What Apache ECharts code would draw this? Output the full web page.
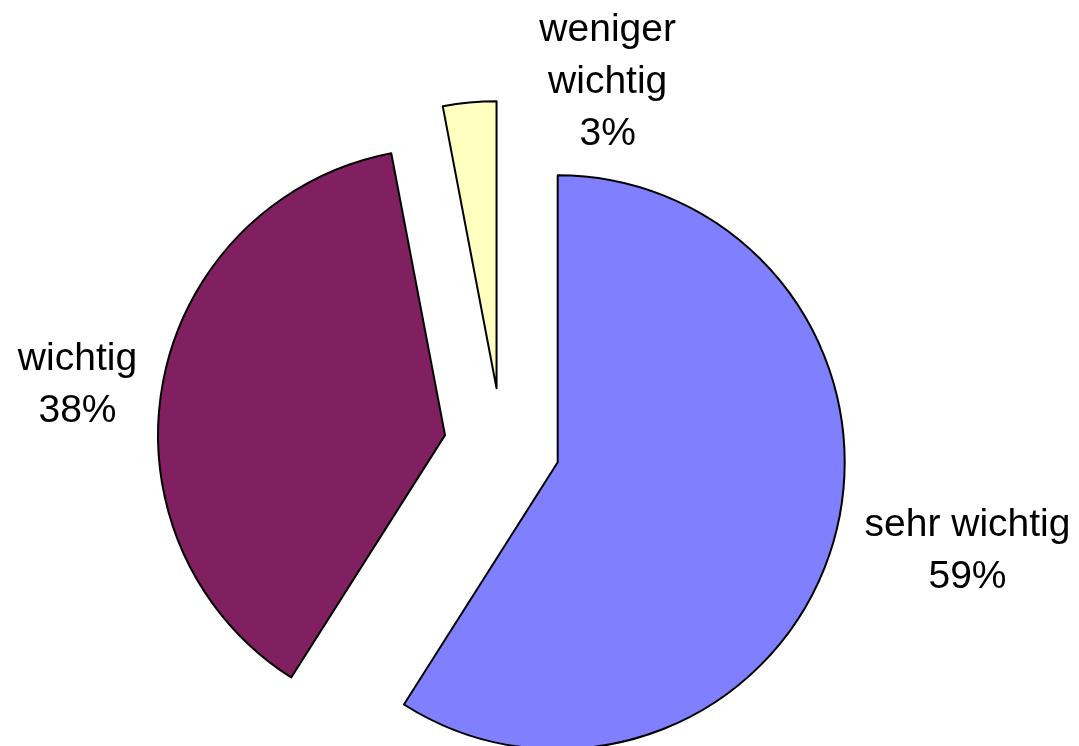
<!DOCTYPE html>
<html>
<head>
<meta charset="utf-8">
<script src="https://cdn.jsdelivr.net/npm/echarts@6/dist/echarts.min.js"></script>
<style>
  html, body { margin: 0; padding: 0; background: #fff; }
  #chart { width: 1079px; height: 746px; }
</style>
</head>
<body>
<div id="chart"></div>
<script>
// categories and shares (percent)
var categories = ['sehr wichtig', 'wichtig', 'weniger wichtig'];
var labelTexts = ['sehr wichtig', 'wichtig', 'weniger\nwichtig'];
var shares = [59, 38, 3];
var colors = ['#8080FF', '#802060', '#FFFFC0'];

// label nudges from default outside position (px)
var labelNudge = [[104, 3], [-55, 8], [151, 0]];

var cx = 502, cy = 446, radius = 287, explode = 58;

var chart = echarts.init(document.getElementById('chart'));

var total = shares.reduce(function (a, b) { return a + b; }, 0);
var acc = 0;

// one pie per slice so every slice can be pulled out along its own mid angle
var series = categories.map(function (name, k) {
  var mid = (acc + shares[k] / 2) / total * Math.PI * 2;
  acc += shares[k];
  return {
    type: 'pie',
    silent: true,
    center: [cx + explode * Math.sin(mid), cy - explode * Math.cos(mid)],
    radius: radius,
    startAngle: 90,
    clockwise: true,
    avoidLabelOverlap: false,
    emphasis: { disabled: true },
    label: {
      show: true,
      position: 'outside',
      fontFamily: 'Liberation Sans, Arial, sans-serif',
      fontSize: 39,
      lineHeight: 52,
      color: '#000',
      formatter: function (p) {
        return labelTexts[p.dataIndex] + '\n' + p.value + '%';
      }
    },
    labelLine: { show: false, length: 20, length2: 6 },
    labelLayout: function () {
      return {
        dx: labelNudge[k][0],
        dy: labelNudge[k][1],
        align: 'center',
        verticalAlign: 'middle'
      };
    },
    data: categories.map(function (n, i) {
      var own = i === k;
      return {
        name: n,
        value: shares[i],
        itemStyle: own
          ? { color: colors[i], borderColor: '#000', borderWidth: 2 }
          : { color: 'rgba(0,0,0,0)', borderWidth: 0 },
        label: { show: own }
      };
    })
  };
});

chart.setOption({
  animation: false,
  series: series
});
</script>
</body>
</html>
